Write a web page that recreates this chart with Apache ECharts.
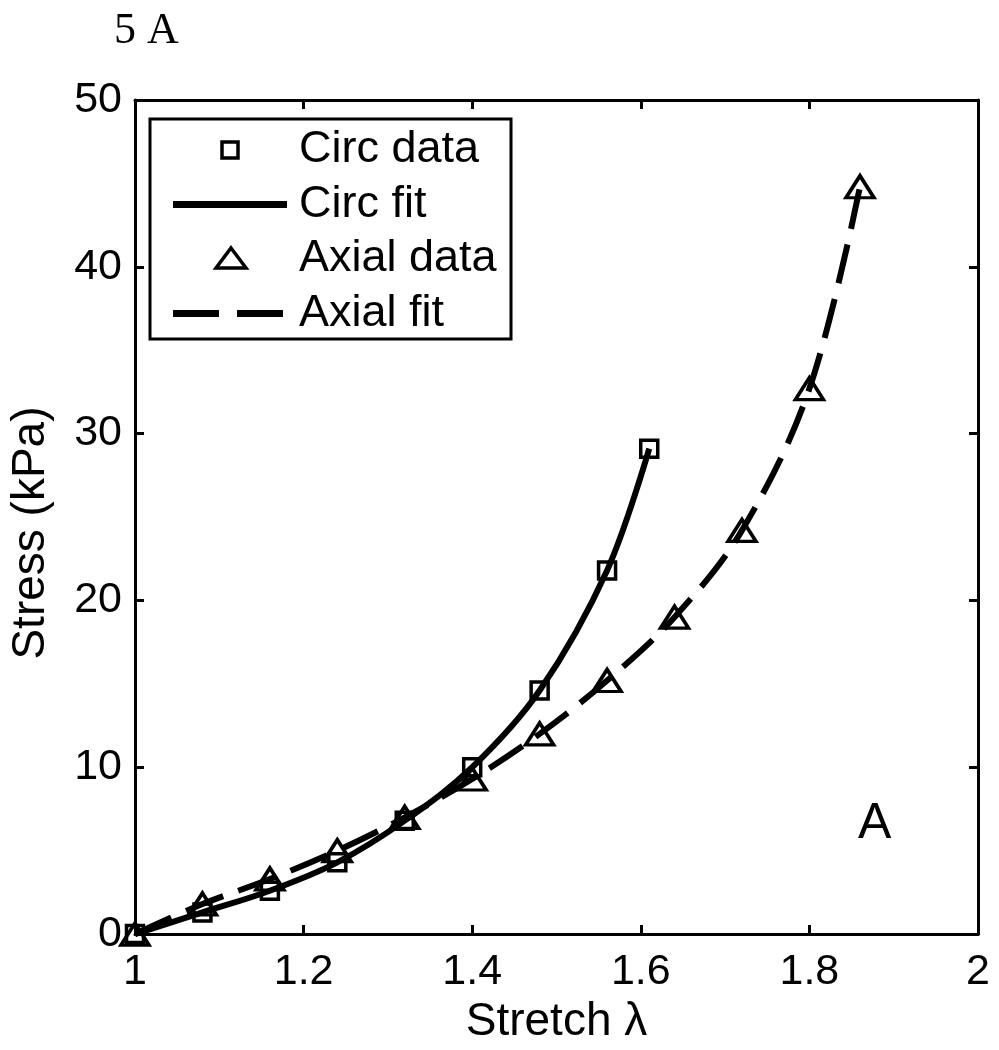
<!DOCTYPE html>
<html>
<head>
<meta charset="utf-8">
<script src="https://cdn.jsdelivr.net/npm/echarts@6/dist/echarts.min.js"></script>
<style>
  html, body { margin: 0; padding: 0; background: #fff; }
  #chart { width: 999px; height: 1050px; }
</style>
</head>
<body>
<div id="chart"></div>
<script>
// stretch values and stress (kPa)
const circStretch = [1.00, 1.08, 1.16, 1.24, 1.32, 1.40, 1.48, 1.56, 1.61]
const circStress = [0.0, 1.3, 2.6, 4.3, 6.8, 10.0, 14.6, 21.8, 29.1]
const axialStretch = [1.00, 1.08, 1.16, 1.24, 1.32, 1.40, 1.48, 1.56, 1.64, 1.72, 1.80, 1.86]
const axialStress = [0.0, 1.8, 3.3, 5.0, 7.0, 9.3, 12.0, 15.2, 19.0, 24.2, 32.7, 44.8]
const xTicks = [1, 1.2, 1.4, 1.6, 1.8, 2]
const yTicks = [0, 10, 20, 30, 40, 50]
const legendNames = ['Circ data', 'Circ fit', 'Axial data', 'Axial fit']

const font = 'Liberation Sans'
const dashPattern = [40, 16]
const pair = (xs, ys) => xs.map((x, i) => [x, ys[i]])

const chart = echarts.init(document.getElementById('chart'))

const baseX = {
    type: 'value',
    min: xTicks[0],
    max: xTicks[xTicks.length - 1],
    interval: 0.2,
    axisLine: { show: true, onZero: false, lineStyle: { color: '#000', width: 3 } },
    axisTick: { show: true, inside: true, length: 9, lineStyle: { color: '#000', width: 3 } },
    splitLine: { show: false }
}
const baseY = {
    type: 'value',
    min: yTicks[0],
    max: yTicks[yTicks.length - 1],
    interval: 10,
    axisLine: { show: true, onZero: false, lineStyle: { color: '#000', width: 3 } },
    axisTick: { show: true, inside: true, length: 9, lineStyle: { color: '#000', width: 3 } },
    splitLine: { show: false }
}

// hand-drawn legend box (matlab style: marker / line sample + label)
const lg = { left: 150, top: 119, width: 361, height: 220, rowTop: 150, rowGap: 54.5 }
const legendGraphic = {
    type: 'group',
    z: 100,
    children: [
        {
            type: 'rect',
            shape: { x: lg.left, y: lg.top, width: lg.width, height: lg.height },
            style: { fill: '#fff', stroke: '#000', lineWidth: 3 }
        }
    ]
}
legendNames.forEach((name, i) => {
    const cy = lg.rowTop + i * lg.rowGap
    let icon
    if (i === 0) {
        icon = { type: 'rect', shape: { x: 222, y: cy - 8, width: 16, height: 16 },
            style: { fill: 'none', stroke: '#000', lineWidth: 3.5 } }
    } else if (i === 2) {
        icon = { type: 'polygon', shape: { points: [[231, cy - 11], [246, cy + 9], [216, cy + 9]] },
            style: { fill: 'none', stroke: '#000', lineWidth: 3.5 } }
    } else {
        icon = { type: 'line', shape: { x1: 173, y1: cy, x2: 287, y2: cy },
            style: { stroke: '#000', lineWidth: 7, lineDash: i === 3 ? [46, 18] : null } }
    }
    legendGraphic.children.push(icon)
    legendGraphic.children.push({
        type: 'text', x: 299, y: cy,
        style: { text: name, font: '45px "Liberation Sans"', fill: '#000', textVerticalAlign: 'middle' }
    })
})

const option = {
    animation: false,
    backgroundColor: '#fff',
    grid: { left: 132, right: 21, top: 100, bottom: 113, containLabel: false },
    xAxis: [
        Object.assign({}, baseX, {
            position: 'bottom',
            name: 'Stretch λ',
            nameLocation: 'middle',
            nameGap: 64,
            nameTextStyle: { fontFamily: font, fontSize: 46, color: '#000' },
            axisLabel: {
                fontFamily: font, fontSize: 43, color: '#000', margin: 17,
                formatter: v => String(+v.toFixed(1))
            }
        }),
        Object.assign({}, baseX, { position: 'top', axisLabel: { show: false } })
    ],
    yAxis: [
        Object.assign({}, baseY, {
            position: 'left',
            name: 'Stress (kPa)',
            nameLocation: 'middle',
            nameGap: 81,
            nameTextStyle: { fontFamily: font, fontSize: 46, color: '#000', padding: [0, 32, 0, 0] },
            axisLabel: { fontFamily: font, fontSize: 43, color: '#000', margin: 13 }
        }),
        Object.assign({}, baseY, { position: 'right', axisLabel: { show: false } })
    ],
    graphic: [
        {
            type: 'text', left: 114, top: 9,
            style: { text: '5 A', font: '44px "Liberation Serif"', fill: '#000' }
        },
        {
            type: 'text', left: 858, top: 799,
            style: { text: 'A', font: '50px "Liberation Sans"', fill: '#000' }
        },
        legendGraphic
    ],
    series: [
        {
            name: 'Circ fit',
            type: 'line',
            smooth: 0.35,
            symbol: 'none',
            itemStyle: { color: '#000' },
            lineStyle: { color: '#000', width: 6 },
            data: pair(circStretch, circStress),
            z: 2
        },
        {
            name: 'Axial fit',
            type: 'line',
            smooth: 0.35,
            symbol: 'none',
            itemStyle: { color: '#000' },
            lineStyle: { color: '#000', width: 6, type: dashPattern },
            data: pair(axialStretch, axialStress),
            z: 2
        },
        {
            name: 'Circ data',
            type: 'scatter',
            symbol: 'rect',
            symbolSize: 17,
            itemStyle: { color: 'none', borderColor: '#000', borderWidth: 3.5, opacity: 1 },
            data: pair(circStretch, circStress),
            z: 3
        },
        {
            name: 'Axial data',
            type: 'scatter',
            symbol: 'triangle',
            symbolSize: [28, 22],
            itemStyle: { color: 'none', borderColor: '#000', borderWidth: 3.5, opacity: 1 },
            data: pair(axialStretch, axialStress),
            z: 3
        }
    ]
}

chart.setOption(option)
</script>
</body>
</html>
